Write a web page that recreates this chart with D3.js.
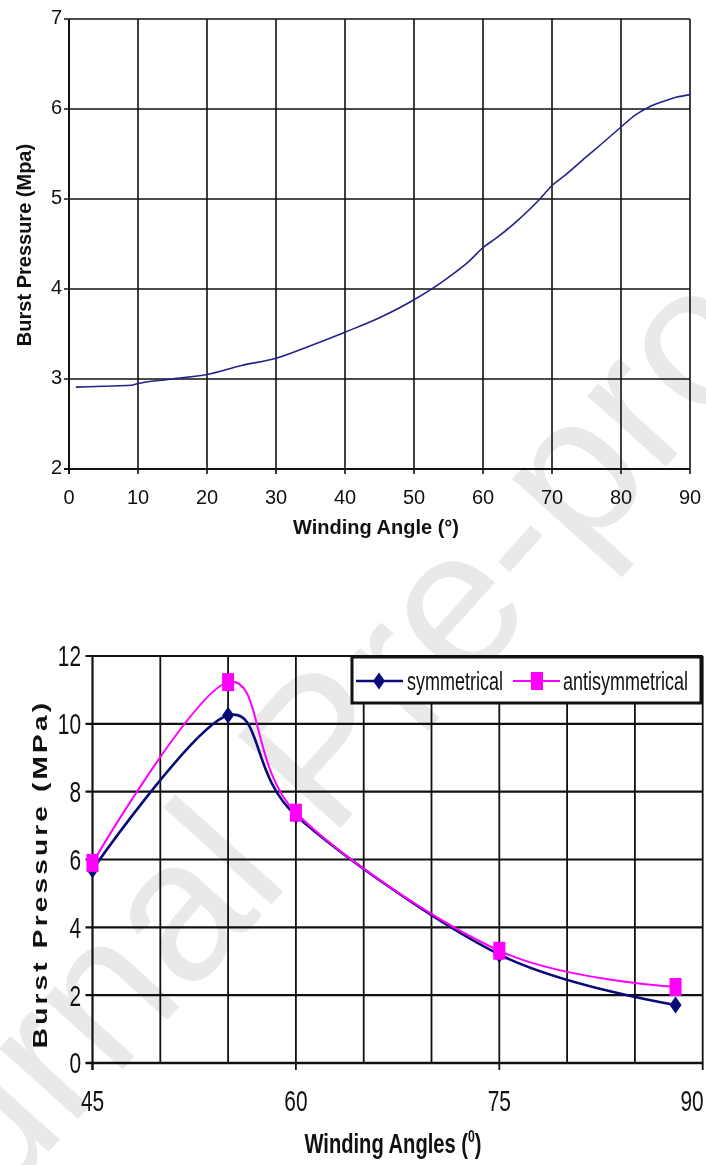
<!DOCTYPE html>
<html><head><meta charset="utf-8">
<script src="https://cdn.jsdelivr.net/npm/d3@7"></script>
<style>
html,body{margin:0;padding:0;background:#fff;}
svg{display:block;}
text{font-family:"Liberation Sans",Arial,sans-serif;fill:#111;}
</style></head>
<body><svg id="c" width="706" height="1165"></svg>
<script>
// ---- Chart 1 data ----
const c1Angles = [1,5,9,10,15,20,25,30,35,40,45,50,55,58,60,62,65,68,70,72,75,77,80,82,84,86,88,90];
const c1Pressure = [2.91,2.92,2.93,2.95,3.0,3.05,3.15,3.23,3.37,3.52,3.68,3.88,4.13,4.31,4.46,4.57,4.76,4.98,5.15,5.27,5.47,5.6,5.8,5.93,6.02,6.08,6.13,6.16];
const c1XTicks = [0,10,20,30,40,50,60,70,80,90];
const c1YTicks = [2,3,4,5,6,7];
// ---- Chart 2 data ----
const c2Angles = [45,55,60,75,88];
const c2Symmetrical = [5.7,10.25,7.3,3.2,1.71];
const c2Antisymmetrical = [5.9,11.23,7.38,3.31,2.24];
const c2XTickLabels = [45,60,75,90];
const c2XGrid = [50,55,60,65,70,75,80,85,90];
const c2YTicks = [0,2,4,6,8,10,12];
const seriesNames = ["symmetrical","antisymmetrical"];

const svg = d3.select("#c");

// watermark (multiply blend so it sits "under" black marks)
svg.append("text")
  .attr("transform","translate(318,748) rotate(-48)")
  .attr("text-anchor","middle").attr("dy","0.35em")
  .style("font-size","200px").style("fill","#e9e9e9")
  .style("mix-blend-mode","multiply")
  .text("Journal Pre-proof");

// ================= Chart 1 =================
const x1 = d3.scaleLinear().domain([0,90]).range([69,690]);
const y1 = d3.scaleLinear().domain([2,7]).range([469,19]);
const g1 = svg.append("g");
const gridStyle = (s, w) => s.attr("stroke","#111").attr("stroke-width",w);

g1.selectAll(".vg").data(c1XTicks.slice(1)).join("line")
  .attr("x1",d=>x1(d)).attr("x2",d=>x1(d)).attr("y1",y1(7)).attr("y2",y1(2)+5)
  .call(gridStyle,1.6);
g1.selectAll(".hg").data(c1YTicks.slice(1)).join("line")
  .attr("x1",x1(0)-5).attr("x2",x1(90)).attr("y1",d=>y1(d)).attr("y2",d=>y1(d))
  .call(gridStyle,1.6);
g1.append("line").attr("x1",x1(0)).attr("x2",x1(0)).attr("y1",y1(7)).attr("y2",y1(2)+5).call(gridStyle,2);
g1.append("line").attr("x1",x1(0)-5).attr("x2",x1(90)).attr("y1",y1(2)).attr("y2",y1(2)).call(gridStyle,2);

g1.selectAll(".xl").data(c1XTicks).join("text")
  .attr("x",d=>x1(d)).attr("y",497).attr("dy","0.35em").attr("text-anchor","middle")
  .style("font-size","20px").text(d=>d);
g1.selectAll(".yl").data(c1YTicks).join("text")
  .attr("x",62).attr("y",d=>y1(d)-2).attr("dy","0.35em").attr("text-anchor","end")
  .style("font-size","20px").text(d=>d);
g1.append("text").attr("x",376).attr("y",534).attr("text-anchor","middle")
  .style("font-size","20px").style("font-weight","bold").text("Winding Angle (°)");
g1.append("text").attr("transform","translate(24,245) rotate(-90)")
  .attr("text-anchor","middle").attr("dy","0.35em")
  .style("font-size","20px").style("font-weight","bold").text("Burst Pressure (Mpa)");

const line1 = d3.line().x((d,i)=>x1(c1Angles[i])).y(d=>y1(d)).curve(d3.curveMonotoneX);
g1.append("path").attr("d",line1(c1Pressure)).attr("fill","none")
  .attr("stroke","#23238a").attr("stroke-width",1.6);

// ================= Chart 2 =================
const x2 = d3.scaleLinear().domain([45,90]).range([92.5,702.7]);
const y2 = d3.scaleLinear().domain([0,12]).range([1063,656]);
const g2 = svg.append("g");
const SX = 0.72;

g2.selectAll(".vg2").data(c2XGrid).join("line")
  .attr("x1",d=>x2(d)).attr("x2",d=>x2(d)).attr("y1",y2(12)).attr("y2",y2(0))
  .call(gridStyle,1.8);
g2.selectAll(".hg2").data(c2YTicks.slice(1)).join("line")
  .attr("x1",x2(45)-7).attr("x2",x2(90)).attr("y1",d=>y2(d)).attr("y2",d=>y2(d))
  .call(gridStyle,2.2);
g2.selectAll(".xt2").data(c2XTickLabels).join("line")
  .attr("x1",d=>x2(d)).attr("x2",d=>x2(d)).attr("y1",y2(0)).attr("y2",y2(0)+7)
  .call(gridStyle,1.8);
g2.append("line").attr("x1",x2(45)).attr("x2",x2(45)).attr("y1",y2(12)).attr("y2",y2(0)+7).call(gridStyle,2.2);
g2.append("line").attr("x1",x2(45)-7).attr("x2",x2(90)).attr("y1",y2(0)).attr("y2",y2(0)).call(gridStyle,2.4);

g2.selectAll(".yl2").data(c2YTicks).join("text")
  .attr("transform",d=>`translate(81,${y2(d)}) scale(${SX},1)`)
  .attr("dy","0.36em").attr("text-anchor","end")
  .style("font-size","29px").text(d=>d);
g2.selectAll(".xl2").data(c2XTickLabels).join("text")
  .attr("transform",d=>`translate(${Math.min(x2(d),692)},1101) scale(${SX},1)`)
  .attr("dy","0.36em").attr("text-anchor","middle")
  .style("font-size","29px").text(d=>d);
const xt = g2.append("text").attr("transform",`translate(393,1153) scale(${SX},1)`)
  .attr("text-anchor","middle").style("font-size","28px").style("font-weight","bold");
xt.append("tspan").text("Winding Angles (");
xt.append("tspan").attr("dy",-11).style("font-size","17px").text("0");
xt.append("tspan").attr("dy",11).text(")");
g2.append("text").attr("transform",`translate(40,874) rotate(-90) scale(1,${SX})`)
  .attr("text-anchor","middle").attr("dy","0.35em")
  .style("font-size","28px").style("font-weight","bold").style("letter-spacing","3.2px")
  .text("Burst Pressure (MPa)");

const line2 = d3.line().x((d,i)=>x2(c2Angles[i])).y(d=>y2(d)).curve(d3.curveCardinal.tension(0));
const colors = {symmetrical:"#0a0a78", antisymmetrical:"#ff00ff"};
g2.append("path").attr("d",line2(c2Symmetrical)).attr("fill","none")
  .attr("stroke",colors.symmetrical).attr("stroke-width",2.6);
g2.append("path").attr("d",line2(c2Antisymmetrical)).attr("fill","none")
  .attr("stroke",colors.antisymmetrical).attr("stroke-width",2);

function diamond(sel, w, h){ sel.attr("d",`M0,${-h/2}L${w/2},0L0,${h/2}L${-w/2},0Z`); }
g2.selectAll(".sm").data(c2Symmetrical).join("path")
  .attr("transform",(d,i)=>`translate(${x2(c2Angles[i])},${y2(d)})`)
  .call(diamond,12,17).attr("fill",colors.symmetrical);
g2.selectAll(".am").data(c2Antisymmetrical).join("rect")
  .attr("x",(d,i)=>x2(c2Angles[i])-6).attr("y",d=>y2(d)-9)
  .attr("width",12).attr("height",18).attr("fill",colors.antisymmetrical);

// legend
const lg = g2.append("g");
lg.append("rect").attr("x",352).attr("y",657).attr("width",349).attr("height",46)
  .attr("fill","#fff").attr("stroke","#111").attr("stroke-width",3);
const legItems = [
  {name:seriesNames[0], x0:356, x1:403, mx:379, tx:407},
  {name:seriesNames[1], x0:513, x1:560, mx:537, tx:563}
];
legItems.forEach(it=>{
  lg.append("line").attr("x1",it.x0).attr("x2",it.x1).attr("y1",681).attr("y2",681)
    .attr("stroke",colors[it.name]).attr("stroke-width",it.name==="symmetrical"?2.6:2);
  if(it.name==="symmetrical"){
    lg.append("path").attr("transform",`translate(${it.mx},681)`).call(diamond,12,17).attr("fill",colors[it.name]);
  } else {
    lg.append("rect").attr("x",it.mx-6).attr("y",672).attr("width",12).attr("height",18).attr("fill",colors[it.name]);
  }
  lg.append("text").attr("transform",`translate(${it.tx},681) scale(${SX},1)`)
    .attr("dy","0.35em").style("font-size","25px").text(it.name);
});
</script></body></html>
